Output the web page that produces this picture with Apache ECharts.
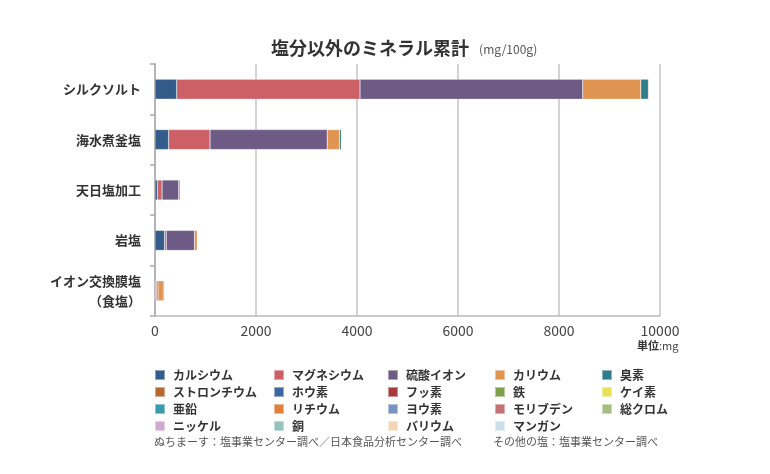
<!DOCTYPE html>
<html><head><meta charset="utf-8">
<script src="https://cdn.jsdelivr.net/npm/echarts@6/dist/echarts.min.js"></script>
<style>html,body{margin:0;padding:0;background:#fff}#c{width:770px;height:474px}</style>
</head><body><div id="c"></div>
<script>
const categories = ['シルクソルト', '海水煮釜塩', '天日塩加工', '岩塩', 'イオン交換膜塩\n（食塩）'];
const xTicks = [0, 2000, 4000, 6000, 8000, 10000];
const minerals = ['カルシウム','マグネシウム','硫酸イオン','カリウム','臭素','ストロンチウム','ホウ素','フッ素','鉄','ケイ素','亜鉛','リチウム','ヨウ素','モリブデン','総クロム','ニッケル','銅','バリウム','マンガン'];
const colors = ['#335c8a','#cc6066','#6d5a85','#e09452','#2e7d8c','#b5692e','#3f66a2','#a53b3b','#7fa048','#e8e158','#3a9aad','#e0803c','#7b93c4','#c47272','#a4bd80','#d1a8d2','#94c4bd','#f4d5b6','#c9dfea'];
const v_calcium   = [430, 270, 50, 190, 10];
const v_magnesium = [3630, 820, 90, 33, 25];
const v_sulfate   = [4410, 2320, 330, 560, 25];
const v_potassium = [1150, 245, 35, 55, 105];
const v_bromine   = [150, 40, 8, 3, 35];
const v_strontium = [14, 6, 1, 2, 0.5];
const v_boron     = [12, 5, 1, 0.5, 0.5];
const v_fluorine  = [2, 1, 0.2, 0.1, 0.1];
const v_iron      = [1, 0.5, 0.3, 0.5, 0.1];
const v_silicon   = [3, 1, 0.5, 0.5, 0.1];
const v_zinc      = [0.5, 0.2, 0.1, 0.1, 0.1];
const v_lithium   = [1, 0.3, 0.1, 0.1, 0.05];
const v_iodine    = [0.2, 0.1, 0.05, 0.05, 0.02];
const v_molybdenum= [0.05, 0.02, 0.01, 0.01, 0.01];
const v_chromium  = [0.05, 0.02, 0.01, 0.01, 0.01];
const v_nickel    = [0.05, 0.02, 0.01, 0.01, 0.01];
const v_copper    = [0.05, 0.02, 0.01, 0.01, 0.01];
const v_barium    = [0.1, 0.05, 0.02, 0.02, 0.01];
const v_manganese = [0.1, 0.05, 0.02, 0.02, 0.01];
const values = [v_calcium,v_magnesium,v_sulfate,v_potassium,v_bromine,v_strontium,v_boron,v_fluorine,v_iron,v_silicon,v_zinc,v_lithium,v_iodine,v_molybdenum,v_chromium,v_nickel,v_copper,v_barium,v_manganese];

const FONT = "'Noto Sans CJK JP', 'Noto Sans', sans-serif";
const legendCols = [
  ['カルシウム','ストロンチウム','亜鉛','ニッケル'],
  ['マグネシウム','ホウ素','リチウム','銅'],
  ['硫酸イオン','フッ素','ヨウ素','バリウム'],
  ['カリウム','鉄','モリブデン','マンガン'],
  ['臭素','ケイ素','総クロム']
];
const legendLeft = [154, 273, 387, 494, 601];

const chart = echarts.init(document.getElementById('c'), null, {renderer: 'canvas'});
chart.setOption({
  animation: false,
  color: colors,
  textStyle: {fontFamily: FONT},
  title: {
    left: 266, top: 34,
    text: '{a|塩分以外のミネラル累計} {b|(mg/100g)}',
    textStyle: {rich: {
      a: {fontSize: 18, fontWeight: 'bold', color: '#333', fontFamily: FONT},
      b: {fontSize: 12, fontWeight: 'normal', color: '#555', fontFamily: FONT, padding: [3, 0, 0, 6]}
    }}
  },
  legend: legendCols.map((col, i) => ({
    orient: 'vertical', left: legendLeft[i], top: 369, padding: 0,
    itemWidth: 10, itemHeight: 10, itemGap: 5, icon: 'rect',
    data: col,
    textStyle: {fontSize: 12, fontWeight: 'bold', color: '#333', fontFamily: FONT, padding: [0, 0, 0, 3]}
  })),
  grid: {left: 155, right: 110, top: 64, bottom: 158, containLabel: false},
  xAxis: {
    type: 'value', min: xTicks[0], max: xTicks[xTicks.length - 1], interval: 2000,
    axisLine: {show: true, lineStyle: {color: '#bbb', width: 1.5}},
    axisTick: {show: false},
    splitLine: {lineStyle: {color: '#c4c4c4', width: 1.5}},
    axisLabel: {fontSize: 14, color: '#444', margin: 8, fontFamily: FONT, formatter: v => String(v)}
  },
  yAxis: {
    type: 'category', inverse: true, data: categories,
    axisLine: {lineStyle: {color: '#aaa', width: 1.5}},
    axisTick: {show: true, length: 5, lineStyle: {color: '#aaa', width: 1.5}},
    axisLabel: {fontSize: 13, fontWeight: 'bold', color: '#333', margin: 14, lineHeight: 20, fontFamily: FONT}
  },
  graphic: [
    {type: 'text', left: 637, top: 340, style: {text: '{a|単位}{b|:mg}', rich: {a: {fontSize: 11, fontWeight: 'bold', fill: '#333', fontFamily: FONT}, b: {fontSize: 11, fill: '#444', fontFamily: FONT}}}},
    {type: 'text', left: 154, top: 436, style: {text: 'ぬちまーす：塩事業センター調べ／日本食品分析センター調べ', fontSize: 11, fill: '#555', fontFamily: FONT}},
    {type: 'text', left: 493, top: 436, style: {text: 'その他の塩：塩事業センター調べ', fontSize: 11, fill: '#555', fontFamily: FONT}}
  ],
  series: minerals.map((name, i) => ({
    name, type: 'bar', stack: 'total', barWidth: 20,
    itemStyle: {color: colors[i], borderColor: 'rgba(255,255,255,0.45)', borderWidth: 0.5},
    data: values[i]
  }))
});
</script></body></html>
